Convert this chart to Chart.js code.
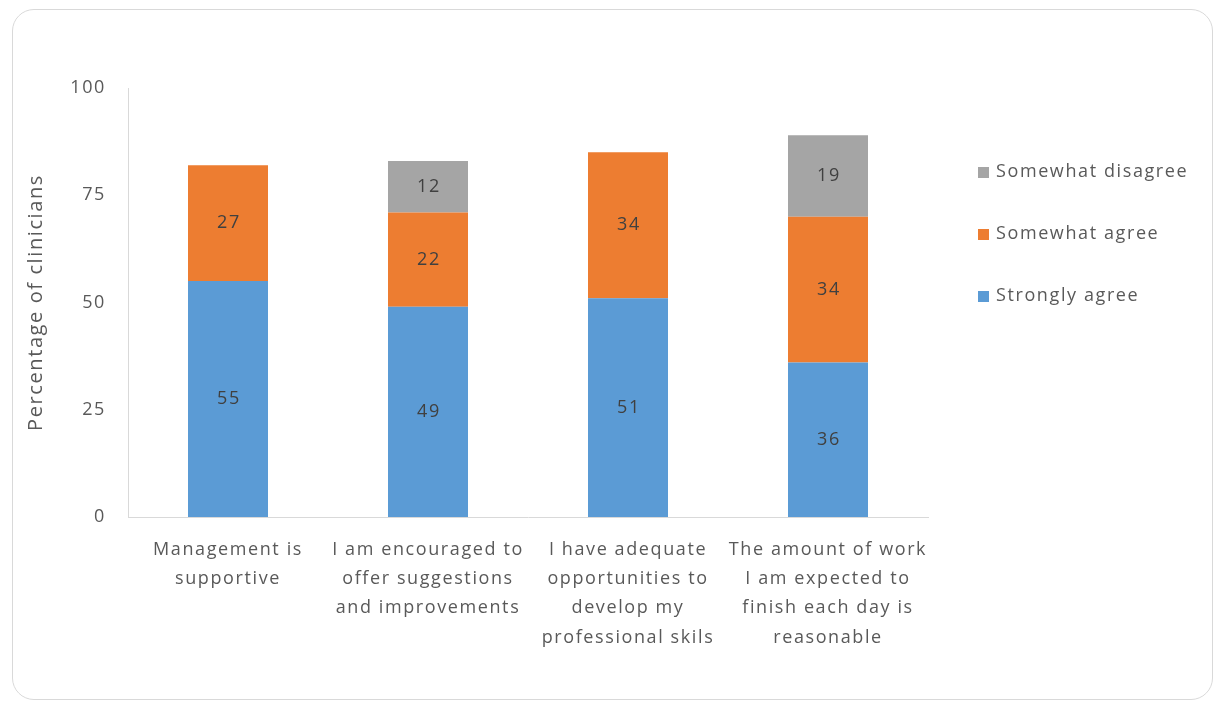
<!DOCTYPE html>
<html>
<head>
<meta charset="utf-8">
<script src="https://cdn.jsdelivr.net/npm/chart.js@4"></script>
<style>
	html, body { margin: 0; padding: 0; background: #ffffff; }
	#wrap { position: relative; width: 1216px; height: 702px; }
	#frame {
		position: absolute; left: 12px; top: 9px; width: 1199px; height: 689px;
		border: 1px solid #d9d9d9; border-radius: 22px; pointer-events: none;
	}
	#chart { position: absolute; left: 0; top: 0; }
</style>
</head>
<body>
<div id="wrap">
	<canvas id="chart" width="1216" height="702"></canvas>
	<div id="frame"></div>
</div>
<script>
const categories = [
	['Management is', 'supportive'],
	['I am encouraged to', 'offer suggestions', 'and improvements'],
	['I have adequate', 'opportunities to', 'develop my', 'professional skils'],
	['The amount of work', 'I am expected to', 'finish each day is', 'reasonable']
];
const stronglyAgree = [55, 49, 51, 36];
const somewhatAgree = [27, 22, 34, 34];
const somewhatDisagree = [null, 12, null, 19];
const yTicks = [0, 25, 50, 75, 100];

const fontFamily = "'Open Sans', sans-serif";
const textColor = '#595959';
const spacing = '1.6px';

// the original text is loosely spaced, keep that on the canvas
const looseText = {
	id: 'looseText',
	beforeUpdate(chart) { chart.ctx.letterSpacing = spacing; },
	beforeDraw(chart) { chart.ctx.letterSpacing = spacing; }
};

// value labels in the middle of each segment
const segmentLabels = {
	id: 'segmentLabels',
	afterDatasetsDraw(chart) {
		const ctx = chart.ctx;
		ctx.save();
		ctx.letterSpacing = spacing;
		ctx.font = '18px ' + fontFamily;
		ctx.fillStyle = '#404040';
		ctx.textAlign = 'center';
		ctx.textBaseline = 'middle';
		chart.data.datasets.forEach(function(ds, i) {
			const meta = chart.getDatasetMeta(i);
			meta.data.forEach(function(bar, j) {
				const v = ds.data[j];
				if (v === null || v === undefined) return;
				ctx.fillText(String(v), bar.x + 1, (bar.y + bar.base) / 2);
			});
		});
		ctx.restore();
	}
};

// legend on the right, top item = last dataset
const sideLegend = {
	id: 'sideLegend',
	afterDraw(chart) {
		const ctx = chart.ctx;
		const area = chart.chartArea;
		ctx.save();
		ctx.letterSpacing = spacing;
		ctx.font = '18px ' + fontFamily;
		ctx.textBaseline = 'middle';
		ctx.textAlign = 'left';
		const items = chart.data.datasets.slice().reverse();
		items.forEach(function(ds, k) {
			const y = 172 + k * 62;
			const x = area.right + 50;
			ctx.fillStyle = ds.backgroundColor;
			ctx.fillRect(x, y - 5, 11, 11);
			ctx.fillStyle = textColor;
			ctx.fillText(ds.label, x + 18, y);
		});
		ctx.restore();
	}
};

const ctx = document.getElementById('chart').getContext('2d');

const chart = new Chart(ctx, {
	type: 'bar',
	data: {
		labels: categories,
		datasets: [
			{ label: 'Strongly agree', data: stronglyAgree, backgroundColor: '#5b9bd5' },
			{ label: 'Somewhat agree', data: somewhatAgree, backgroundColor: '#ed7d31' },
			{ label: 'Somewhat disagree', data: somewhatDisagree, backgroundColor: '#a5a5a5' }
		]
	},
	options: {
		responsive: false,
		animation: false,
		barPercentage: 0.4,
		categoryPercentage: 1,
		layout: {
			padding: { left: 20, right: 288, top: 88, bottom: 0 }
		},
		plugins: {
			legend: { display: false },
			tooltip: { enabled: false }
		},
		scales: {
			x: {
				stacked: true,
				grid: { display: false },
				border: { color: '#d9d9d9', width: 1 },
				ticks: {
					color: textColor,
					font: { family: fontFamily, size: 18, lineHeight: 1.63 },
					padding: 10,
					maxRotation: 0,
					autoSkip: false
				},
				afterFit(scale) { scale.height = 185; }
			},
			y: {
				stacked: true,
				min: 0,
				max: 100,
				afterBuildTicks(scale) {
					scale.ticks = yTicks.map(function(v) { return { value: v }; });
				},
				grid: { display: false },
				border: { color: '#d9d9d9', width: 1 },
				ticks: {
					color: textColor,
					font: { family: fontFamily, size: 18 },
					padding: 14
				},
				title: {
					display: true,
					text: 'Percentage of clinicians',
					color: textColor,
					font: { family: fontFamily, size: 20 },
					padding: 4
				},
				afterFit(scale) { scale.width = 108; }
			}
		}
	},
	plugins: [looseText, segmentLabels, sideLegend]
});
</script>
</body>
</html>
